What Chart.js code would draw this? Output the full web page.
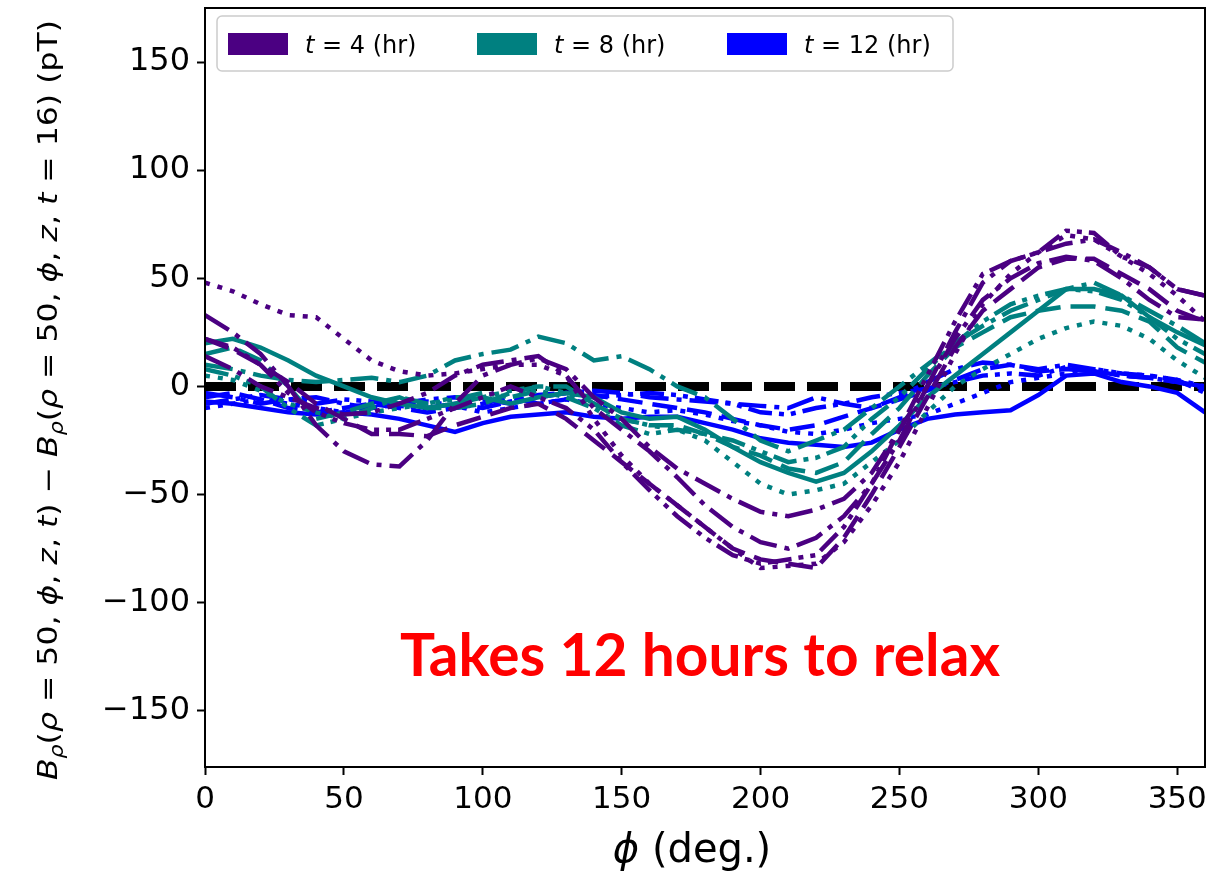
<!DOCTYPE html>
<html lang="en">
<head>
  <meta charset="UTF-8">
  <title>B_rho relaxation</title>
  <style>
    body { margin: 0; background: #fff; }
    #wrap { width: 1218px; height: 877px; }
  </style>
</head>
<body>
  <div id="wrap"><canvas id="chart" width="1218" height="877"></canvas></div>

  <script src="https://cdn.jsdelivr.net/npm/chart.js"></script>
  <script>
    // phi sample points (deg.)
    const PHI = [0,10,20,30,40,50,60,70,80,90,100,110,120,130,140,150,160,170,180,190,200,210,220,230,240,250,260,270,280,290,300,310,320,330,340,350,360];
    const X_TICKS = [0, 50, 100, 150, 200, 250, 300, 350];
    const Y_TICKS = [-150, -100, -50, 0, 50, 100, 150];
    const ZERO_X = [0, 360];
    const ZERO_Y = [0, 0];

    // t = 4 hr
    const P_DOTTED  = [48,44,38,33,32,22,12,7,5,6,8,10,10,5,-15,-32,-45,-55,-65,-75,-84,-83,-82,-72,-55,-35,-10,15,38,52,62,70,68,60,52,42,30];
    const P_DASHED  = [22,17,10,2,-8,-15,-22,-22,-23,-18,-14,-10,-8,-15,-25,-35,-45,-55,-65,-75,-80,-82,-84,-70,-50,-28,-5,18,35,45,55,59,59,52,45,35,30];
    const P_DASHDOT = [33,25,15,0,-18,-30,-36,-37,-25,-8,5,10,13,8,-5,-15,-28,-38,-45,-52,-58,-60,-57,-52,-40,-20,0,25,48,58,62,66,68,62,55,45,42];
    const P_DASHDOT2 = [14,8,0,-5,-10,-13,-12,-8,-3,5,10,12,14,5,-10,-20,-30,-42,-55,-65,-72,-75,-70,-60,-45,-25,0,22,40,50,57,60,58,50,40,32,31];
    const P_DDD     = [22,18,10,-3,-12,-17,-20,-20,-15,-10,-5,0,-5,-10,-20,-35,-48,-60,-70,-78,-82,-80,-78,-65,-45,-20,5,30,52,58,62,72,71,60,55,45,42];

    // t = 8 hr
    const T_SOLID   = [20,22,18,12,5,0,-5,-8,-10,-8,-5,-8,-5,-3,-5,-12,-15,-14,-20,-28,-35,-40,-44,-40,-30,-18,-5,5,15,25,35,45,45,42,32,25,19];
    const T_DASHDOT = [10,8,5,3,2,3,4,2,5,12,15,17,23,20,12,14,8,0,-5,-15,-25,-30,-25,-20,-10,0,10,20,28,35,40,45,48,42,35,28,20];
    const T_DASHED  = [15,18,12,0,-15,-12,-8,-5,-10,-10,-8,-3,0,0,-8,-15,-18,-18,-22,-28,-32,-38,-40,-35,-22,-10,5,18,25,32,35,37,37,35,30,18,11];
    const T_DOTTED  = [5,3,-2,-8,-12,-15,-12,-10,-8,-5,-5,-2,0,-3,-8,-15,-18,-20,-25,-35,-45,-50,-48,-45,-35,-25,-12,0,8,15,22,27,30,28,22,12,4];
    const T_DDD     = [8,5,0,-10,-18,-15,-10,-5,-8,-6,-3,-5,-2,-5,-10,-18,-22,-20,-22,-25,-30,-35,-33,-28,-15,-5,8,20,30,38,42,45,44,40,32,22,15];

    // t = 12 hr
    const B_SOLID   = [-7,-8,-10,-12,-13,-12,-13,-15,-18,-21,-17,-14,-13,-12,-14,-15,-14,-14,-17,-20,-24,-26,-27,-28,-26,-20,-15,-13,-12,-11,-4,5,6,2,0,-3,-12];
    const B_DASHDOT = [-3,-5,-8,-6,-5,-8,-10,-8,-6,-5,-6,-8,-5,-3,-2,-3,-5,-6,-7,-8,-9,-10,-5,-8,-10,-5,2,8,11,10,8,10,8,6,5,3,-3];
    const B_DASHED  = [-5,-3,-6,-10,-12,-10,-8,-10,-12,-10,-8,-5,-8,-6,-4,-6,-8,-10,-12,-15,-18,-20,-18,-14,-10,-6,-2,3,8,10,7,8,7,5,4,2,-1];
    const B_DOTTED  = [-10,-8,-6,-8,-10,-12,-10,-8,-7,-9,-12,-10,-8,-6,-8,-10,-12,-11,-13,-16,-18,-21,-22,-20,-17,-15,-13,-8,-3,2,4,6,8,6,5,3,0];
    const B_DDD     = [-8,-6,-4,-6,-8,-6,-7,-9,-10,-8,-10,-7,-4,-3,-5,-4,-3,-4,-6,-8,-12,-13,-10,-8,-5,-3,-1,2,5,6,5,9,7,5,4,2,0];

    const PURPLE = '#4b0082';
    const TEAL = '#008080';
    const BLUE = '#0000ff';

    const DASH = {
      solid: [],
      dashed: [25, 10],
      dashdot: [28, 8, 5, 8],
      dotted: [5, 8],
      ddd: [24, 7, 5, 7, 5, 7]
    };

    function series(ys, color, dash) {
      return {
        data: PHI.map((x, i) => ({ x, y: ys[i] })),
        borderColor: color,
        borderWidth: 4.5,
        borderDash: DASH[dash],
        pointRadius: 0,
        fill: false,
        tension: 0
      };
    }

    const datasets = [
      series(P_DOTTED, PURPLE, 'dotted'),
      series(P_DASHED, PURPLE, 'dashed'),
      series(P_DASHDOT, PURPLE, 'dashdot'),
      series(P_DASHDOT2, PURPLE, 'dashdot'),
      series(P_DDD, PURPLE, 'ddd'),
      series(T_SOLID, TEAL, 'solid'),
      series(T_DASHDOT, TEAL, 'dashdot'),
      series(T_DASHED, TEAL, 'dashed'),
      series(T_DOTTED, TEAL, 'dotted'),
      series(T_DDD, TEAL, 'ddd'),
      series(B_SOLID, BLUE, 'solid'),
      series(B_DASHDOT, BLUE, 'dashdot'),
      series(B_DASHED, BLUE, 'dashed'),
      series(B_DOTTED, BLUE, 'dotted'),
      series(B_DDD, BLUE, 'ddd'),
      {
        data: ZERO_X.map((x, i) => ({ x, y: ZERO_Y[i] })),
        borderColor: '#000',
        borderWidth: 9,
        borderDash: [31, 12],
        pointRadius: 0,
        fill: false
      }
    ];

    // draw a row of mixed italic / normal / subscript pieces
    function richWidth(ctx, parts, size, family) {
      let w = 0;
      parts.forEach(p => {
        const s = p.sub ? size * 0.7 : size;
        ctx.font = (p.i ? 'italic ' : '') + s + 'px ' + family;
        w += ctx.measureText(p.t).width;
      });
      return w;
    }
    function drawRich(ctx, parts, x, y, size, family) {
      parts.forEach(p => {
        const s = p.sub ? size * 0.7 : size;
        ctx.font = (p.i ? 'italic ' : '') + s + 'px ' + family;
        ctx.fillText(p.t, x, p.sub ? y + size * 0.22 : y);
        x += ctx.measureText(p.t).width;
      });
    }

    const YLABEL = [
      {t:'B', i:1}, {t:'ρ', i:1, sub:1}, {t:'('}, {t:'ρ', i:1}, {t:' = 50, '}, {t:'ϕ', i:1}, {t:', '}, {t:'z', i:1}, {t:', '}, {t:'t', i:1},
      {t:') − '}, {t:'B', i:1}, {t:'ρ', i:1, sub:1}, {t:'('}, {t:'ρ', i:1}, {t:' = 50, '}, {t:'ϕ', i:1}, {t:', '}, {t:'z', i:1}, {t:', '}, {t:'t', i:1},
      {t:' = 16) (pT)'}
    ];
    const LEGEND = [
      { color: PURPLE, parts: [{t:'t', i:1}, {t:' = 4 (hr)'}] },
      { color: TEAL, parts: [{t:'t', i:1}, {t:' = 8 (hr)'}] },
      { color: BLUE, parts: [{t:'t', i:1}, {t:' = 12 (hr)'}] }
    ];

    const decor = {
      id: 'decor',
      afterDraw(chart) {
        const ctx = chart.ctx;
        const a = chart.chartArea;
        const fam = '"DejaVu Sans", sans-serif';
        ctx.save();

        // frame
        ctx.strokeStyle = '#000';
        ctx.lineWidth = 2;
        ctx.strokeRect(a.left, a.top, a.right - a.left, a.bottom - a.top);

        // legend box
        const lx = 217, ly = 16, lw = 736, lh = 55;
        ctx.fillStyle = 'rgba(255,255,255,0.85)';
        ctx.strokeStyle = '#cccccc';
        ctx.lineWidth = 1.5;
        ctx.beginPath();
        ctx.roundRect(lx, ly, lw, lh, 5);
        ctx.fill();
        ctx.stroke();
        const swX = [228, 477, 727];
        ctx.textBaseline = 'alphabetic';
        ctx.textAlign = 'left';
        LEGEND.forEach((it, k) => {
          ctx.fillStyle = it.color;
          ctx.fillRect(swX[k], 33, 60, 22);
          ctx.fillStyle = '#000';
          drawRich(ctx, it.parts, swX[k] + 77, 53, 24, fam);
        });

        // y label (rotated, fitted to length)
        const ys = 27;
        const yw = richWidth(ctx, YLABEL, ys, fam);
        ctx.save();
        ctx.translate(57, 400);
        ctx.rotate(-Math.PI / 2);
        ctx.scale(760 / yw, 1);
        ctx.fillStyle = '#000';
        drawRich(ctx, YLABEL, -yw / 2, 0, ys, fam);
        ctx.restore();

        // x label
        const xparts = [{t:'ϕ', i:1}, {t:' (deg.)'}];
        const xs = 40;
        const xw = richWidth(ctx, xparts, xs, fam);
        ctx.fillStyle = '#000';
        drawRich(ctx, xparts, 692 - xw / 2, 862, xs, fam);

        // annotation
        const note = 'Takes 12 hours to relax';
        ctx.font = 'bold 60px Lato, "Open Sans", sans-serif';
        const nw = ctx.measureText(note).width;
        ctx.save();
        ctx.translate(700, 676);
        ctx.scale(600 / nw, 1);
        ctx.fillStyle = '#ff0000';
        ctx.textAlign = 'center';
        ctx.fillText(note, 0, 0);
        ctx.restore();

        ctx.restore();
      }
    };

    function noPad(s) {
      s.paddingTop = 0;
      s.paddingBottom = 0;
      s.paddingLeft = 0;
      s.paddingRight = 0;
    }

    new Chart(document.getElementById('chart').getContext('2d'), {
      type: 'line',
      data: { datasets },
      plugins: [decor],
      options: {
        responsive: false,
        animation: false,
        layout: { padding: { top: 8, right: 13, left: 0, bottom: 0 } },
        plugins: {
          legend: { display: false },
          tooltip: { enabled: false }
        },
        scales: {
          x: {
            type: 'linear',
            min: 0,
            max: 360,
            afterFit: s => { s.height = 110; noPad(s); },
            afterBuildTicks: s => { s.ticks = X_TICKS.map(v => ({ value: v })); },
            ticks: {
              color: '#000',
              font: { family: 'DejaVu Sans', size: 31 },
              padding: 6,
              maxRotation: 0,
              autoSkip: false
            },
            grid: { drawOnChartArea: false, drawTicks: true, tickLength: 8, tickWidth: 2, tickColor: '#000' },
            border: { color: '#000', width: 2 }
          },
          y: {
            min: -176,
            max: 175,
            afterFit: s => { s.width = 205; noPad(s); },
            afterBuildTicks: s => { s.ticks = Y_TICKS.map(v => ({ value: v })); },
            ticks: {
              color: '#000',
              font: { family: 'DejaVu Sans', size: 32 },
              padding: 7,
              autoSkip: false,
              callback: v => (v < 0 ? '−' + Math.abs(v) : String(v))
            },
            grid: { drawOnChartArea: false, drawTicks: true, tickLength: 8, tickWidth: 2, tickColor: '#000' },
            border: { color: '#000', width: 2 }
          }
        }
      }
    });
  </script>
</body>
</html>
